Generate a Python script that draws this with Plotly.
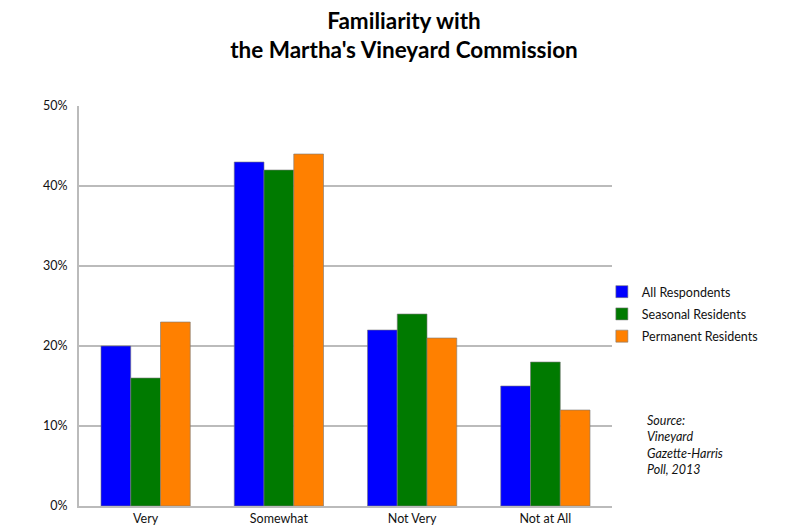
import plotly.graph_objects as go

categories = ["Very", "Somewhat", "Not Very", "Not at All"]
all_resp = [20, 43, 22, 15]
seasonal = [16, 42, 24, 18]
permanent = [23, 44, 21, 12]
series_names = ["All Respondents", "Seasonal Residents", "Permanent Residents"]
colors = ["#0000FF", "#007A00", "#FF8000"]
tick_vals = [0, 10, 20, 30, 40, 50]
tick_text = ["0%", "10%", "20%", "30%", "40%", "50%"]

FONT = "Lato, Open Sans, sans-serif"
fig = go.Figure()
for name, vals, c in zip(series_names, [all_resp, seasonal, permanent], colors):
    fig.add_trace(go.Bar(x=categories, y=vals, name=name, legendgroup=name,
                         marker=dict(color=c, line=dict(color="rgba(120,120,120,0.6)", width=1))))

fig.update_layout(
    width=792, height=522,
    paper_bgcolor="white", plot_bgcolor="white",
    margin=dict(l=71, r=188, t=98, b=24),
    barmode="group", bargap=0.33, bargroupgap=0,
    title=dict(text="<b>Familiarity with<br>the Martha's Vineyard Commission</b>",
               x=0.5, xanchor="center", y=0.96, yanchor="middle",
               font=dict(family=FONT, size=22.5, color="black")),
    font=dict(family=FONT, size=12, color="#111"),
    legend=dict(x=0.981, y=0.48, xanchor="left", yanchor="middle",
                font=dict(family=FONT, size=12.5, color="#111"),
                itemwidth=30, tracegroupgap=3, bgcolor="rgba(0,0,0,0)"),
    xaxis=dict(showline=True, linecolor="#BBBBBB", linewidth=2, ticks="",
               automargin=False, tickfont=dict(size=12.5)),
    yaxis=dict(range=[0, 50], tickvals=tick_vals, ticktext=tick_text,
               showgrid=True, gridcolor="#BBBBBB", gridwidth=2,
               showline=True, linecolor="#BBBBBB", linewidth=2, zeroline=False,
               automargin=False, ticks="", ticklabelstandoff=7, tickfont=dict(size=12.5)),
    annotations=[dict(text="<i>Source:<br>Vineyard<br>Gazette-Harris<br>Poll, 2013</i>",
                      xref="paper", yref="paper", x=1.062, y=0.1525,
                      xanchor="left", yanchor="middle", showarrow=False, align="left",
                      font=dict(family=FONT, size=12.5, color="#111"))],
)

fig.write_html("out.html")
